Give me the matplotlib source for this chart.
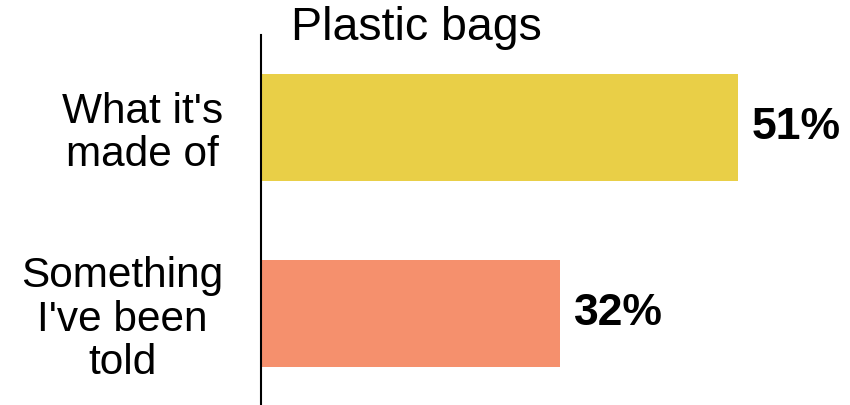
import matplotlib
matplotlib.use("Agg")
import matplotlib.pyplot as plt

categories = ["What it's\nmade of", "Something\nI've been\ntold"]
values = [51, 32]
value_labels = ["51%", "32%"]
colors = ["#E9CF47", "#F5906D"]
title = "Plastic bags"

plt.rcParams['font.family'] = ['Liberation Sans', 'DejaVu Sans']

fig = plt.figure(figsize=(8.5, 4.05), dpi=100)
ax = fig.add_axes([261/850, 0, 1 - 261/850, (405-35)/405])

ypos = list(range(len(categories)))
ax.barh(ypos, values, height=0.575, color=colors)
ax.set_xlim(0, 589/9.35)
ax.set_ylim(1.492, -0.497)

for s in ['top', 'right', 'bottom']:
    ax.spines[s].set_visible(False)
ax.spines['left'].set_linewidth(1.5)
ax.spines['left'].set_color('black')
ax.set_xticks([])
ax.set_yticks(ypos)
ax.set_yticklabels(categories, fontsize=30.5, multialignment='center', linespacing=1.1)
ax.tick_params(axis='y', length=0, pad=27)

for y, v, lab in zip(ypos, values, value_labels):
    ax.annotate(lab, xy=(v, y), xytext=(10, 0), textcoords='offset points',
                ha='left', va='center', fontsize=32, fontweight='bold')

fig.text(416/850, (405-40)/405, title, ha='center', va='baseline', fontsize=33.5)

fig.savefig("out.png", dpi=100)
